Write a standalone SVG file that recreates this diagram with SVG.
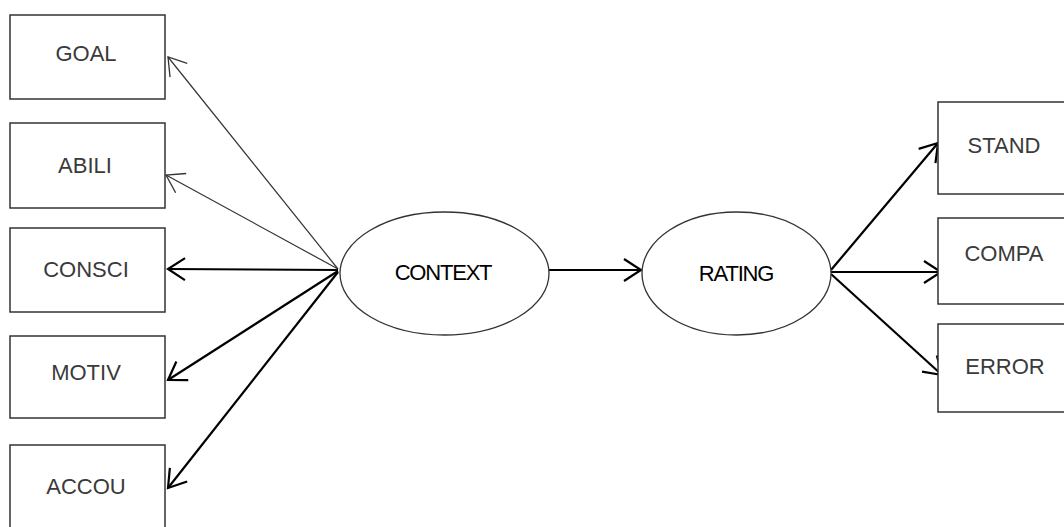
<svg xmlns="http://www.w3.org/2000/svg" width="1064" height="527" viewBox="0 0 1064 527">
  <style>
    .box { fill: #fff; stroke: #333; stroke-width: 1.5; }
    .oval { fill: #fff; stroke: #333; stroke-width: 1.3; }
    .lbl { font-family: "Liberation Sans", Arial, sans-serif; font-size: 22px; fill: #3a3a3a; text-anchor: middle; dominant-baseline: central; }
    .olbl { font-family: "Liberation Sans", Arial, sans-serif; font-size: 22px; fill: #000; text-anchor: middle; dominant-baseline: central; letter-spacing: -1.2px; }
    .thin { stroke: #333; stroke-width: 1.2; fill: none; marker-end: url(#headThin); }
    .thick { stroke: #000; stroke-width: 2.2; fill: none; marker-end: url(#headThick); }
  </style>
  <defs>
    <marker id="headThin" markerUnits="userSpaceOnUse" markerWidth="22" markerHeight="26" refX="18" refY="13" orient="auto">
      <path d="M1,2 L18,13 L1,24" fill="none" stroke="#333" stroke-width="1.3"/>
    </marker>
    <marker id="headThick" markerUnits="userSpaceOnUse" markerWidth="22" markerHeight="26" refX="18" refY="13" orient="auto">
      <path d="M1,2 L18,13 L1,24" fill="none" stroke="#000" stroke-width="2.2"/>
    </marker>
  </defs>

  <rect width="1064" height="527" fill="#fff"/>

  <!-- connectors -->
  <g id="connectors">
    <line class="thin" x1="338" y1="269" x2="168" y2="57"/>
    <line class="thin" x1="338" y1="269" x2="166" y2="175"/>
    <line class="thick" x1="338" y1="270" x2="168" y2="269"/>
    <line class="thick" x1="338" y1="271" x2="168" y2="380"/>
    <line class="thick" x1="338" y1="272" x2="168" y2="488"/>
    <line class="thick" x1="549" y1="270" x2="641" y2="270"/>
    <line class="thick" x1="831" y1="270" x2="938" y2="143"/>
    <line class="thick" x1="831" y1="272" x2="941" y2="272"/>
    <line class="thick" x1="831" y1="274" x2="942" y2="375"/>
  </g>

  <!-- indicator boxes, left -->
  <g id="goal"><rect class="box" x="10" y="15" width="155" height="84"/><text class="lbl" x="86" y="53">GOAL</text></g>
  <g id="abili"><rect class="box" x="10" y="123" width="155" height="85"/><text class="lbl" x="85" y="165">ABILI</text></g>
  <g id="consci"><rect class="box" x="10" y="228" width="155" height="84"/><text class="lbl" x="86" y="269">CONSCI</text></g>
  <g id="motiv"><rect class="box" x="10" y="336" width="155" height="82"/><text class="lbl" x="86" y="372">MOTIV</text></g>
  <g id="accou"><rect class="box" x="10" y="445" width="155" height="86"/><text class="lbl" x="86" y="486">ACCOU</text></g>

  <!-- latent variables -->
  <g id="context"><ellipse class="oval" cx="444.5" cy="273.5" rx="104.5" ry="61.5"/><text class="olbl" x="443" y="272">CONTEXT</text></g>
  <g id="rating"><ellipse class="oval" cx="736.5" cy="273.5" rx="94.5" ry="61.5"/><text class="olbl" x="736" y="273">RATING</text></g>

  <!-- indicator boxes, right -->
  <g id="stand"><rect class="box" x="938" y="102" width="155" height="92"/><text class="lbl" x="1004" y="145">STAND</text></g>
  <g id="compa"><rect class="box" x="938" y="218" width="155" height="86"/><text class="lbl" x="1004" y="253">COMPA</text></g>
  <g id="error"><rect class="box" x="938" y="324" width="155" height="88"/><text class="lbl" x="1005" y="366">ERROR</text></g>
</svg>
